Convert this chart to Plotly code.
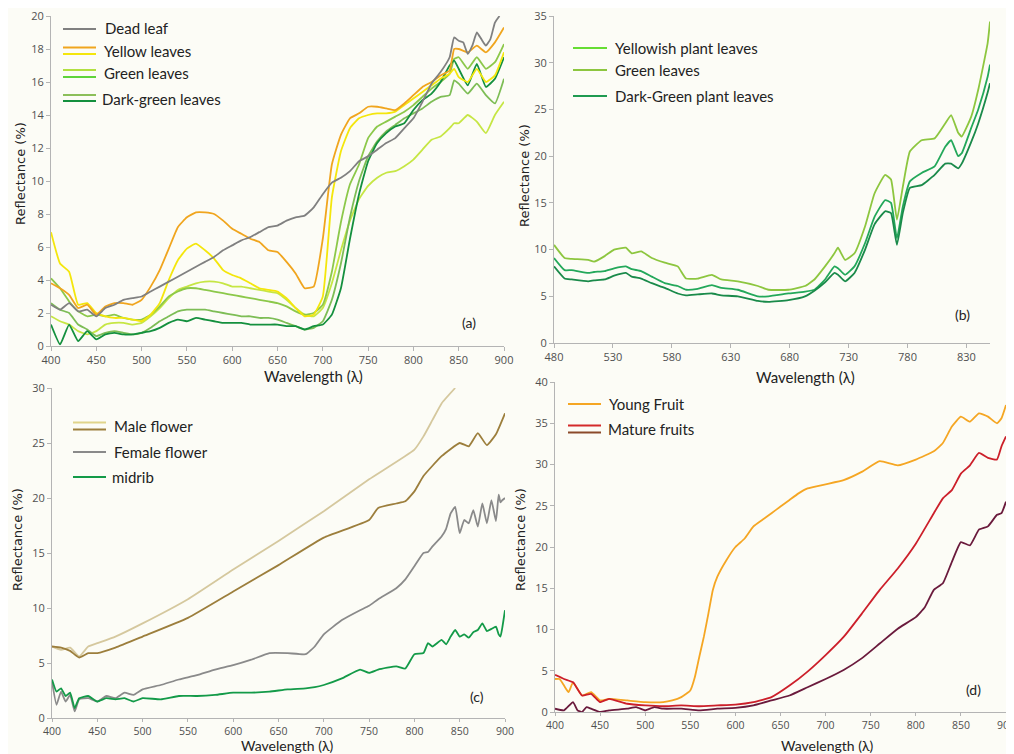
import plotly.graph_objects as go

W, H = 1014, 754
OFF = 8  # page body margin offset in the browser

# ---------------- Panel (a) ----------------
a_dead_x = [400,410,420,430,440,450,460,470,480,490,500,510,520,530,540,550,560,570,580,590,600,610,620,630,640,650,660,670,680,690,700,710,720,730,740,750,760,770,780,790,800,810,820,830,840,845,850,855,860,865,870,875,880,885,890,895]
a_dead_y = [2.5,2.2,2.6,2.1,2.2,1.8,2.3,2.5,2.8,2.9,3.0,3.3,3.6,3.9,4.2,4.5,4.8,5.1,5.4,5.8,6.1,6.4,6.6,6.9,7.2,7.3,7.6,7.8,7.9,8.4,9.2,9.9,10.2,10.6,11.2,11.5,11.9,12.3,12.6,13.2,13.8,14.8,15.9,16.6,17.5,18.7,18.5,18.4,17.7,18.2,19.0,18.6,18.2,18.6,19.6,20.0]

a_wl = [400,410,420,430,440,450,460,470,480,490,500,510,520,530,540,550,560,570,580,590,600,610,620,630,640,650,660,670,680,690,700,710,720,730,740,750,760,770,780,790,800,810,820,830,840,845,850,860,870,880,890,900]
a_orange = [3.8,3.5,3.1,2.3,2.5,1.9,2.4,2.6,2.6,2.5,2.8,3.6,4.6,5.9,7.2,7.8,8.1,8.1,8.0,7.6,7.1,6.8,6.5,6.3,5.8,5.7,5.1,4.4,3.5,3.6,6.5,11.0,12.8,13.8,14.1,14.5,14.5,14.4,14.3,14.7,15.2,15.7,16.0,16.4,16.7,18.0,18.0,17.8,18.2,17.8,18.4,19.3]
a_yellow = [6.9,5.0,4.5,2.5,2.6,2.0,1.8,1.7,1.7,1.6,1.5,1.9,2.6,4.0,5.2,5.9,6.2,5.8,5.3,4.6,4.3,4.1,3.8,3.5,3.4,3.3,2.9,2.3,1.8,1.9,3.0,9.0,11.8,13.2,13.8,14.0,14.1,14.1,14.2,14.6,15.0,15.4,15.8,16.2,16.5,16.8,16.3,16.0,16.8,16.0,16.4,17.8]
a_green1 = [1.8,1.5,1.3,0.9,0.7,0.9,1.3,1.4,1.4,1.3,1.4,1.8,2.3,2.9,3.4,3.6,3.8,3.9,3.9,3.8,3.6,3.6,3.5,3.4,3.3,3.2,2.8,2.3,1.9,1.8,2.3,3.8,5.8,7.6,8.9,9.7,10.2,10.5,10.6,10.9,11.3,11.9,12.5,12.7,13.2,13.5,13.5,14.0,13.6,12.9,14.0,14.8]
a_green2 = [4.1,3.5,2.7,2.1,1.8,1.9,1.8,1.9,1.7,1.6,1.6,1.9,2.4,3.0,3.3,3.5,3.5,3.4,3.3,3.2,3.1,3.0,2.9,2.8,2.7,2.6,2.4,2.1,1.9,2.0,2.5,4.5,7.5,9.8,11.0,12.6,13.3,13.6,13.9,14.2,14.6,15.1,15.6,16.0,16.5,17.4,17.5,16.8,17.5,16.8,17.2,18.3]
a_dgreen1 = [2.6,2.2,2.0,1.3,1.0,0.6,0.8,0.9,0.8,0.7,0.8,1.1,1.5,1.8,2.1,2.2,2.2,2.2,2.1,2.0,1.9,1.8,1.8,1.7,1.7,1.6,1.4,1.2,1.0,1.1,1.5,2.8,5.0,7.8,10.0,11.5,12.4,13.0,13.4,13.8,14.1,14.4,14.8,15.1,15.2,16.1,15.9,15.3,15.9,15.2,14.7,16.2]
a_dgreen2 = [1.3,0.1,1.3,0.3,0.9,0.4,0.7,0.8,0.7,0.7,0.8,0.9,1.1,1.4,1.6,1.5,1.7,1.6,1.5,1.4,1.4,1.4,1.3,1.3,1.3,1.3,1.2,1.2,1.0,1.2,1.3,1.9,3.5,6.5,9.2,11.2,12.3,12.9,13.3,13.5,14.3,14.9,15.3,16.0,17.0,17.3,16.8,15.8,17.1,15.7,16.2,17.5]

# ---------------- Panel (b) ----------------
b_wl = [480,489,495,509,514,523,531,541,546,554,563,574,585,592,602,614,622,636,653,662,679,693,701,710,718,721,727,735,744,752,761,766,771,776,782,792,803,812,817,823,826,834,840,848,850]
b_green = [10.5,9.1,9.0,8.9,8.7,9.3,10.0,10.2,9.6,9.8,9.1,8.6,8.2,6.9,6.9,7.3,6.8,6.6,6.1,5.7,5.7,6.1,6.8,8.2,9.6,10.2,8.9,9.6,12.5,16.0,18.0,17.5,13.2,16.7,20.5,21.7,21.9,23.5,24.4,22.5,22.1,24.2,27.1,32.1,34.4]
b_mid = [9.1,7.8,7.8,7.5,7.6,7.7,8.0,8.2,7.9,7.7,7.1,6.4,6.1,5.7,5.8,6.2,5.9,5.7,5.0,5.0,5.3,5.5,5.7,6.8,8.2,8.0,7.3,8.2,10.7,13.5,15.3,15.0,11.2,14.6,17.3,18.2,18.9,21.0,21.7,20.0,20.3,23.0,25.0,28.5,29.8]
b_dark = [8.2,6.9,6.8,6.6,6.7,6.8,7.2,7.5,7.1,6.9,6.4,5.9,5.3,5.1,5.2,5.3,5.1,5.0,4.5,4.4,4.6,5.0,5.6,6.5,7.5,7.3,6.6,7.5,10.0,12.7,14.1,13.9,10.5,13.9,16.6,16.9,18.0,19.2,19.2,18.7,19.2,21.5,23.5,26.8,27.8]

# ---------------- Panel (c) ----------------
c_wl = [400,405,410,415,420,425,430,440,450,460,470,480,490,500,520,540,560,580,600,620,640,660,680,690,700,720,740,750,760,780,790,800,810,815,820,830,835,840,845,850,855,860,865,870,875,880,885,890,893,895,897,900]
c_female = [3.3,1.2,2.4,1.5,2.1,0.6,1.7,1.8,1.5,2.0,1.8,2.3,2.1,2.6,3.0,3.5,3.9,4.4,4.8,5.3,5.9,5.9,5.8,6.5,7.6,8.9,9.8,10.2,10.8,11.8,12.6,13.8,15.0,15.1,15.6,16.5,17.2,18.6,19.2,16.8,18.0,17.7,18.9,17.4,19.5,17.7,19.8,17.9,20.3,19.6,19.8,20.0]
c_midrib = [3.5,2.4,2.7,2.0,2.3,0.9,1.8,2.0,1.5,1.8,1.7,1.8,1.5,1.8,1.7,2.0,2.0,2.1,2.3,2.3,2.4,2.6,2.7,2.8,3.0,3.6,4.4,4.1,4.4,4.7,4.5,5.8,5.9,6.8,6.5,7.1,6.7,7.4,8.0,7.4,7.6,7.3,7.8,8.0,8.6,7.9,8.1,8.3,7.6,7.4,8.2,9.8]
c_male1_x = [400,410,420,430,440,450,470,500,550,600,650,700,750,800,810,820,830,845]
c_male1_y = [6.5,6.2,6.4,5.6,6.5,6.8,7.4,8.6,10.8,13.5,16.1,18.8,21.7,24.4,25.6,27.1,28.6,30.0]
c_male2_x = [400,410,420,430,440,450,470,500,550,600,650,700,750,760,780,790,800,810,830,850,860,870,880,890,900]
c_male2_y = [6.5,6.4,6.1,5.5,5.9,5.9,6.4,7.4,9.1,11.5,13.9,16.4,18.0,19.1,19.5,19.7,20.6,22.0,23.8,25.0,24.7,25.9,24.8,25.8,27.7]

# ---------------- Panel (d) ----------------
d_young_x = [400,405,410,415,420,430,440,450,460,480,500,520,530,540,550,555,560,565,570,575,580,590,600,610,620,630,640,650,660,670,680,700,720,740,760,780,800,820,830,840,850,860,870,880,890,895,900]
d_young_y = [4.0,4.0,3.2,2.4,3.6,2.0,2.4,1.4,1.6,1.4,1.2,1.2,1.4,1.8,2.6,4.2,6.7,9.1,11.9,14.8,16.4,18.4,20.0,21.0,22.5,23.3,24.1,24.9,25.7,26.5,27.1,27.6,28.1,29.1,30.4,29.9,30.6,31.6,32.6,34.6,35.8,35.2,36.2,35.8,35.0,35.6,37.2]
d_wl = [400,410,420,430,440,450,460,480,500,520,540,560,580,600,620,640,660,680,700,720,740,760,780,800,820,830,840,850,860,870,880,890,895,900]
d_mature1 = [4.5,4.0,3.6,2.0,2.2,1.2,1.6,1.0,0.8,0.7,0.8,0.7,0.8,0.9,1.2,1.8,3.2,4.9,6.9,9.1,11.9,14.8,17.4,20.4,24.1,25.9,26.9,28.9,29.9,31.4,30.8,30.6,32.2,33.4]
d_mature2_x = [400,410,420,425,430,435,440,450,460,480,490,500,510,520,540,560,580,600,620,640,660,680,700,720,740,760,780,800,810,820,830,840,850,860,870,880,890,895,900]
d_mature2_y = [0.4,0.2,1.2,0.2,0.0,0.6,0.4,0.0,0.2,0.4,0.6,0.2,0.6,0.4,0.4,0.2,0.4,0.5,0.8,1.4,2.0,3.0,4.0,5.1,6.5,8.3,10.1,11.5,12.7,14.8,15.6,18.2,20.6,20.2,22.1,22.5,23.9,24.1,25.5]

BG = "#fcfcf6"
AXC = "#b4b4b4"
TICKF = dict(family="Open Sans, DejaVu Sans, sans-serif", size=11, color="#505050")
TICKF_B = dict(family="Open Sans, DejaVu Sans, sans-serif", size=10.5, color="#505050")
TXT = "Lato, Open Sans, sans-serif"

def px(x):
    return (x - OFF) / W

def py(y):
    return 1 - (y - OFF) / H

fig = go.Figure()

def add(x, y, color, axis, width=1.8):
    fig.add_trace(go.Scatter(x=x, y=y, mode="lines",
                             line=dict(color=color, width=width, shape="spline", smoothing=0.4),
                             xaxis="x" + axis, yaxis="y" + axis, showlegend=False,
                             hoverinfo="skip"))

# (a)
add(a_wl, a_green1, "#c6e644", "")
add(a_wl, a_dgreen1, "#7dbd55", "")
add(a_wl, a_green2, "#8cc84a", "")
add(a_wl, a_dgreen2, "#14903e", "")
add(a_wl, a_yellow, "#f4e60c", "")
add(a_wl, a_orange, "#f0a51e", "")
add(a_dead_x, a_dead_y, "#808080", "")
# (b)
add(b_wl, b_green, "#8dc63f", "2")
add(b_wl, b_mid, "#23a85a", "2")
add(b_wl, b_dark, "#1a8a4a", "2")
# (c)
add(c_male1_x, c_male1_y, "#d5c89e", "3")
add(c_male2_x, c_male2_y, "#9c7e3c", "3")
add(c_wl, c_female, "#8a8a8a", "3")
add(c_wl, c_midrib, "#139a48", "3")
# (d)
add(d_young_x, d_young_y, "#f5a623", "4")
add(d_wl, d_mature1, "#cc1f2a", "4")
add(d_mature2_x, d_mature2_y, "#6a1a3c", "4")

def xax(dom, rng, tick0, anchor, font=TICKF, ticklen=4):
    return dict(domain=dom, range=rng, tick0=tick0, dtick=50, showline=True, linecolor=AXC,
                linewidth=1, ticks="outside", ticklen=ticklen, tickcolor=AXC, showgrid=False,
                zeroline=False, tickfont=font, anchor=anchor, fixedrange=True,
                automargin=False, ticklabeloverflow="allow")

def yax(dom, rng, dtick, anchor):
    return dict(domain=dom, range=rng, dtick=dtick, showline=True, linecolor=AXC,
                linewidth=1, ticks="outside", ticklen=4, tickcolor=AXC, showgrid=False,
                zeroline=False, tickfont=TICKF, anchor=anchor, fixedrange=True,
                automargin=False, ticklabeloverflow="allow")

fig.update_layout(
    width=W, height=H, autosize=False,
    margin=dict(l=0, r=0, t=0, b=0, autoexpand=False),
    paper_bgcolor=BG, plot_bgcolor=BG,
    xaxis=xax([px(51), px(504)], [400, 900], 400, "y"),
    yaxis=yax([py(346), py(16)], [0, 20], 2, "x"),
    xaxis2=xax([px(554), px(990)], [480, 850], 480, "y2"),
    yaxis2=yax([py(343), py(16)], [0, 35], 5, "x2"),
    xaxis3=xax([px(52), px(505)], [400, 900], 400, "y3", TICKF_B, 3),
    yaxis3=yax([py(718), py(388)], [0, 30], 5, "x3"),
    xaxis4=xax([px(555), px(1006)], [400, 900], 400, "y4", TICKF_B, 3),
    yaxis4=yax([py(712), py(382)], [0, 40], 5, "x4"),
)

ann = []
shapes = []

def text(x, y, s, size=15, color="#222222", angle=0, xanchor="left", family=TXT):
    ann.append(dict(x=px(x), y=py(y), xref="paper", yref="paper", text=s, showarrow=False,
                    xanchor=xanchor, yanchor="middle", textangle=angle, borderpad=0,
                    font=dict(family=family, size=size, color=color)))

def swatch(x0, x1, y, color):
    shapes.append(dict(type="line", xref="paper", yref="paper", x0=px(x0), x1=px(x1),
                       y0=py(y), y1=py(y), line=dict(color=color, width=2)))

# axis titles
for cx, cy in [(313, 376), (805, 377)]:
    text(cx, cy, "Wavelength (λ)", size=15, xanchor="center")
for cx, cy in [(287, 745.5), (827, 745.5)]:
    text(cx, cy, "Wavelength (λ)", size=14, xanchor="center")
for cx, cy in [(20, 174), (524, 176), (17, 540), (520, 540)]:
    text(cx, cy, "Reflectance (%)", size=13, angle=-90, xanchor="center",
         family="DejaVu Sans, sans-serif")

# panel labels
text(469, 322, "(a)", size=14, xanchor="center")
text(962, 314, "(b)", size=14, xanchor="center")
text(477, 696, "(c)", size=14, xanchor="center")
text(973, 689, "(d)", size=14, xanchor="center")

# legend (a)
swatch(63, 96, 29, "#808080"); text(104, 28, "Dead leaf")
swatch(63, 96, 47.5, "#f0a51e"); swatch(63, 96, 54, "#f4e60c"); text(103, 51, "Yellow leaves")
swatch(63, 96, 70, "#b2e040"); swatch(63, 96, 77, "#5fd43a"); text(103, 73, "Green leaves")
swatch(63, 96, 95, "#8cbf5a"); swatch(63, 96, 101, "#14903e"); text(101, 99, "Dark-green leaves")
# legend (b)
swatch(573, 607, 48, "#66dd33"); text(614, 48, "Yellowish plant leaves")
swatch(573, 607, 70, "#8dc63f"); text(614, 70, "Green leaves")
swatch(573, 607, 96, "#1f9a50"); text(614, 96, "Dark-Green plant leaves")
# legend (c)
swatch(73, 106, 422.5, "#e0d48a"); swatch(73, 106, 429.5, "#9c7e3c"); text(113, 426, "Male flower")
swatch(73, 106, 452, "#8a8a8a"); text(113, 452, "Female flower")
swatch(73, 106, 477, "#139a48"); text(111, 477, "midrib")
# legend (d)
swatch(568, 601, 404, "#f5a623"); text(608, 404, "Young Fruit")
swatch(568, 601, 425.5, "#d42a2a"); swatch(568, 601, 432.5, "#8b4a2a"); text(607, 429, "Mature fruits")

fig.update_layout(annotations=ann, shapes=shapes)

fig.write_html("out.html")
